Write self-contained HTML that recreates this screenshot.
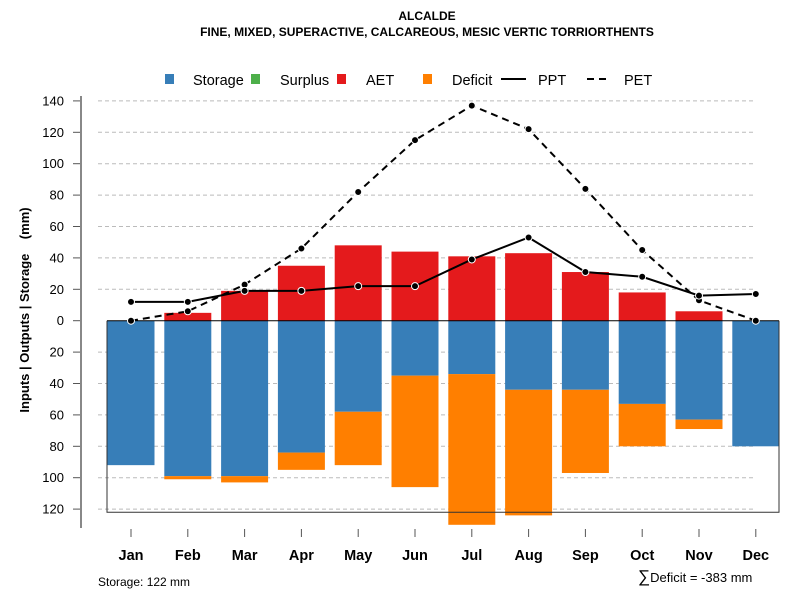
<!DOCTYPE html>
<html><head><meta charset="utf-8"><style>
body{margin:0;background:#fff;}
svg{display:block;font-family:"Liberation Sans",Arial,sans-serif;}
</style></head><body>
<svg id="chart" width="800" height="600" viewBox="0 0 800 600">
<text x="427" y="20" text-anchor="middle" font-size="12" font-weight="bold">ALCALDE</text>
<text x="427" y="36" text-anchor="middle" font-size="12" font-weight="bold">FINE, MIXED, SUPERACTIVE, CALCAREOUS, MESIC VERTIC TORRIORTHENTS</text>
<g id="legend" font-size="14.5">
<rect x="165" y="74" width="9" height="10" fill="#377eb8"/>
<text x="193" y="85">Storage</text>
<rect x="251" y="74" width="9" height="10" fill="#4daf4a"/>
<text x="280" y="85">Surplus</text>
<rect x="337" y="74" width="9" height="10" fill="#e41a1c"/>
<text x="366" y="85">AET</text>
<rect x="423" y="74" width="9" height="10" fill="#ff7f00"/>
<text x="452" y="85">Deficit</text>
<line x1="501" y1="79" x2="526" y2="79" stroke="#000" stroke-width="2"/>
<text x="538" y="85">PPT</text>
<line x1="587" y1="79" x2="610" y2="79" stroke="#000" stroke-width="2" stroke-dasharray="7,5"/>
<text x="624" y="85">PET</text>
</g>
<g id="plot"></g>
<text transform="translate(29,310) rotate(-90)" text-anchor="middle" font-size="13" font-weight="bold">Inputs | Outputs | Storage &#160;&#160; (mm)</text>
<text x="98" y="586" font-size="12">Storage: 122 mm</text>
<text x="638" y="582" font-size="13"><tspan font-size="17">∑</tspan>Deficit = -383 mm</text>
</svg>
<script>
const months=["Jan","Feb","Mar","Apr","May","Jun","Jul","Aug","Sep","Oct","Nov","Dec"];
const aet=[0,5,19,35,48,44,41,43,31,18,6,0];
const storage=[92,99,99,84,58,35,34,44,44,53,63,80];
const deficit=[0,2,4,11,34,71,96,80,53,27,6,0];
const ppt=[12,12,19,19,22,22,39,53,31,28,16,17];
const pet=[0,6,23,46,82,115,137,122,84,45,13,0];
const yTicks=[140,120,100,80,60,40,20,0,20,40,60,80,100,120];
const yTickVals=[140,120,100,80,60,40,20,0,-20,-40,-60,-80,-100,-120];
const storageCap=122;
const NS="http://www.w3.org/2000/svg";
const g=document.getElementById('plot');
const y=v=>320.7-v*1.57;
const x=i=>131+i*56.8;
function mk(tag,attrs){const e=document.createElementNS(NS,tag);for(const k in attrs)e.setAttribute(k,attrs[k]);g.appendChild(e);return e;}
yTickVals.forEach((v,i)=>{
 if(v!==0){const l=mk('line',{x1:98,x2:756,y1:y(v),y2:y(v),stroke:'#bbb','stroke-dasharray':'4,3'});
 
 }
 const t=mk('line',{x1:73,x2:81,y1:y(v),y2:y(v),stroke:'#555'});
 
 
 const tx=mk('text',{x:64,y:y(v)+4.5,'text-anchor':'end','font-size':13});
 tx.textContent=yTicks[i];
 
 
});
const ax=mk('line',{x1:81,x2:81,y1:96,y2:528,stroke:'#888','stroke-width':2});


const bw=47;
months.forEach((m,i)=>{
 const b1=mk('rect',{x:x(i)-bw/2,y:y(0),width:bw,height:y(-storage[i])-y(0),fill:'#377eb8'});
 
 
 if(deficit[i]>0){const b2=mk('rect',{x:x(i)-bw/2,y:y(-storage[i]),width:bw,height:y(-storage[i]-deficit[i])-y(-storage[i]),fill:'#ff7f00'});
 
 }
 if(aet[i]>0){const b3=mk('rect',{x:x(i)-bw/2,y:y(aet[i]),width:bw,height:y(0)-y(aet[i]),fill:'#e41a1c'});
 
 }
 const tk=mk('line',{x1:x(i),x2:x(i),y1:529,y2:537,stroke:'#555'});
 
 
 const tl=mk('text',{x:x(i),y:560,'text-anchor':'middle','font-size':14.5,'font-weight':'bold'});
 tl.textContent=m;
 
 
});
const frame=mk('polyline',{points:`107,${y(0)} 107,${y(-storageCap)} 779,${y(-storageCap)} 779,${y(0)}`,fill:'none',stroke:'#333'});


const zl=mk('line',{x1:107,x2:779,y1:y(0),y2:y(0),stroke:'#000'});


function series(vals,name,dash){
 const p=mk('polyline',{points:vals.map((v,i)=>x(i)+','+y(v)).join(' '),fill:'none',stroke:'#000','stroke-width':2,'stroke-dasharray':dash});
 
 
 vals.forEach((v,i)=>{const c=mk('circle',{cx:x(i),cy:y(v),r:3.5,fill:'#000',stroke:'#fff','stroke-width':1});
 
 });
}
series(pet,'pet','7,5');
series(ppt,'ppt','none');
</script>
</body></html>
